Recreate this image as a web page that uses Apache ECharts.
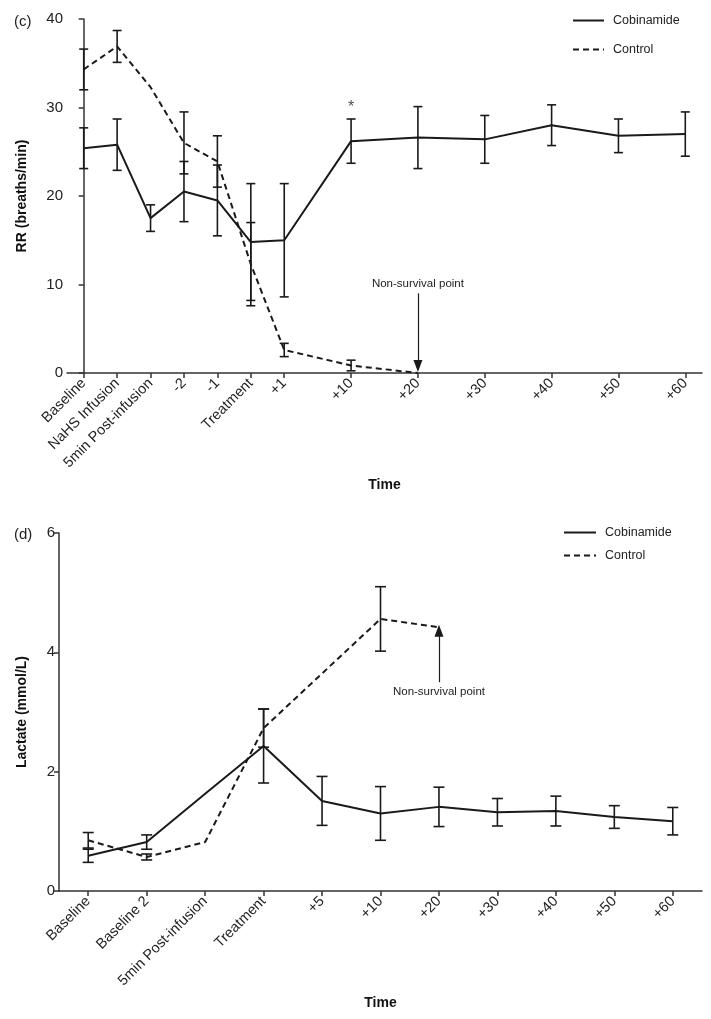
<!DOCTYPE html>
<html>
<head>
<meta charset="utf-8">
<script src="https://cdn.jsdelivr.net/npm/echarts@6/dist/echarts.min.js"></script>
<style>
html,body{margin:0;padding:0;background:#fff;}
#main{width:711px;height:1019px;}
</style>
</head>
<body>
<div id="main"></div>
<script>
// ---------- Panel (c): respiratory rate ----------
const rrTimeLabels = ['Baseline','NaHS Infusion','5min Post-infusion','-2','-1','Treatment','+1','+10','+20','+30','+40','+50','+60'];
const rrTimeSlots = [0,1,2,3,4,5,6,8,10,12,14,16,18];
const rrCobinamideMean = [25.4,25.8,17.5,20.5,19.5,14.8,15.0,26.2,26.6,26.4,28.0,26.8,27.0];
const rrCobinamideSem  = [2.3,2.9,1.5,3.4,4.0,6.6,6.4,2.5,3.5,2.7,2.3,1.9,2.5];
const rrControlMean = [34.3,36.9,32.3,26.0,23.9,12.3,2.6,0.85,0];
const rrControlSem  = [2.3,1.8,null,3.5,2.9,4.7,0.75,0.6,null];
const rrYTicks = [0,10,20,30,40];
const rrStar = [[8, 30.0]];
const rrNonSurvival = {slot: 10, from: 9.0, to: 0.8};

// ---------- Panel (d): lactate ----------
const lacTimeLabels = ['Baseline','Baseline 2','5min Post-infusion','Treatment','+5','+10','+20','+30','+40','+50','+60'];
const lacCobinamideMean = [0.59,0.82,1.63,2.43,1.51,1.30,1.41,1.32,1.34,1.24,1.17];
const lacCobinamideSem  = [0.11,0.12,null,0.62,0.41,0.45,0.33,0.23,0.25,0.19,0.23];
const lacControlMean = [0.85,0.57,0.82,2.73,null,4.56,4.42];
const lacControlSem  = [0.13,0.05,null,0.32,null,0.54,null];
const lacYTicks = [0,2,4,6];
const lacNonSurvival = {index: 6, from: 3.5, to: 4.36};

const FONT = 'Liberation Sans, Arial, Helvetica, sans-serif';
const INK = '#1a1a1a';
const AXIS = '#333';

function slotPairs(slots, means) {
  return means.map((m, i) => [slots[i], m]);
}
function errRows(xs, means, sems) {
  const out = [];
  means.forEach((m, i) => {
    if (m != null && sems[i] != null) out.push([xs[i], m - sems[i], m + sems[i]]);
  });
  return out;
}
function errRenderer(capHalf) {
  return function (params, api) {
    const x = api.value(0);
    const lo = api.coord([x, api.value(1)]);
    const hi = api.coord([x, api.value(2)]);
    const st = {stroke: INK, lineWidth: 1.6};
    return {
      type: 'group',
      children: [
        {type: 'line', shape: {x1: lo[0], y1: lo[1], x2: hi[0], y2: hi[1]}, style: st},
        {type: 'line', shape: {x1: lo[0] - capHalf, y1: lo[1], x2: lo[0] + capHalf, y2: lo[1]}, style: st},
        {type: 'line', shape: {x1: hi[0] - capHalf, y1: hi[1], x2: hi[0] + capHalf, y2: hi[1]}, style: st}
      ]
    };
  };
}

const lacIdx = lacTimeLabels.map((_, i) => i);

const axisLineStyle = {color: AXIS, width: 1.5};
const tickLabel = {color: '#222', fontSize: 14.5, fontFamily: FONT};
const legendText = {fontSize: 12.5, color: '#222', fontFamily: FONT, padding: [0, 0, 0, 4]};

const chart = echarts.init(document.getElementById('main'), null, {renderer: 'canvas'});

const option = {
  animation: false,
  backgroundColor: '#fff',
  textStyle: {fontFamily: FONT},
  grid: [
    {left: 67, right: 9, top: 19, height: 354},
    {left: 59, right: 9, top: 533, height: 358}
  ],
  legend: [
    {
      orient: 'vertical', left: 572, top: 14, padding: 0, itemWidth: 31, itemHeight: 14, itemGap: 16,
      data: ['Cobinamide', 'Control'], itemStyle: {opacity: 0},
      textStyle: legendText, selectedMode: false
    },
    {
      orient: 'vertical', left: 563, top: 526, padding: 0, itemWidth: 32, itemHeight: 14, itemGap: 10,
      data: ['Cobinamide', 'Control'], itemStyle: {opacity: 0},
      textStyle: legendText, selectedMode: false
    }
  ],
  xAxis: [
    {
      type: 'value', gridIndex: 0, min: -0.5, max: 18.5,
      splitLine: {show: false},
      axisLine: {show: true, lineStyle: axisLineStyle},
      axisTick: {show: true, customValues: rrTimeSlots, length: 5, lineStyle: axisLineStyle},
      axisLabel: Object.assign({
        customValues: rrTimeSlots, rotate: 45, margin: 8,
        formatter: v => rrTimeLabels[rrTimeSlots.indexOf(v)] || ''
      }, tickLabel),
      name: 'Time', nameLocation: 'middle', nameGap: 105,
      nameTextStyle: {fontWeight: 'bold', fontSize: 14, color: '#111', fontFamily: FONT}
    },
    {
      type: 'category', gridIndex: 1, data: lacTimeLabels, boundaryGap: true,
      axisLine: {show: true, lineStyle: axisLineStyle},
      axisTick: {show: true, alignWithLabel: true, length: 5, lineStyle: axisLineStyle},
      axisLabel: Object.assign({rotate: 45, margin: 8, interval: 0}, tickLabel),
      name: 'Time', nameLocation: 'middle', nameGap: 105,
      nameTextStyle: {fontWeight: 'bold', fontSize: 14, color: '#111', fontFamily: FONT}
    }
  ],
  yAxis: [
    {
      type: 'value', gridIndex: 0, min: rrYTicks[0], max: rrYTicks[rrYTicks.length - 1], interval: 10,
      splitLine: {show: false},
      axisLine: {show: true, lineStyle: axisLineStyle},
      axisTick: {show: true, length: 5, lineStyle: axisLineStyle},
      axisLabel: Object.assign({}, tickLabel, {fontSize: 15, margin: 4}),
      name: 'RR (breaths/min)', nameLocation: 'middle', nameGap: 38, nameRotate: 90,
      nameTextStyle: {fontWeight: 'bold', fontSize: 14, color: '#111', fontFamily: FONT}
    },
    {
      type: 'value', gridIndex: 1, min: lacYTicks[0], max: lacYTicks[lacYTicks.length - 1], interval: 2,
      splitLine: {show: false},
      axisLine: {show: true, lineStyle: axisLineStyle},
      axisTick: {show: true, length: 5, lineStyle: axisLineStyle},
      axisLabel: Object.assign({}, tickLabel, {fontSize: 15, margin: 4}),
      name: 'Lactate (mmol/L)', nameLocation: 'middle', nameGap: 30, nameRotate: 90,
      nameTextStyle: {fontWeight: 'bold', fontSize: 14, color: '#111', fontFamily: FONT}
    }
  ],
  graphic: [
    {type: 'text', left: 14, top: 14, style: {text: '(c)', fontSize: 15, fill: '#222', fontFamily: FONT}},
    {type: 'text', left: 14, top: 527, style: {text: '(d)', fontSize: 15, fill: '#222', fontFamily: FONT}}
  ],
  series: [
    // Panel (c)
    {
      name: 'Cobinamide', type: 'line', xAxisIndex: 0, yAxisIndex: 0,
      data: slotPairs(rrTimeSlots, rrCobinamideMean), symbol: 'none',
      lineStyle: {color: INK, width: 2}, itemStyle: {color: INK}, z: 3
    },
    {
      name: 'Control', type: 'line', xAxisIndex: 0, yAxisIndex: 0,
      data: slotPairs(rrTimeSlots, rrControlMean), symbol: 'none',
      lineStyle: {color: INK, width: 2, type: [6, 4]}, itemStyle: {color: INK}, z: 3,
      markLine: {
        silent: true, symbol: ['none', 'triangle'], symbolSize: [9, 12], precision: 3,
        lineStyle: {color: INK, width: 1.2, type: 'solid'},
        label: {show: true, position: 'start', formatter: 'Non-survival point', color: '#222', fontSize: 11.5, fontFamily: FONT, distance: 4},
        data: [[{coord: [rrNonSurvival.slot, rrNonSurvival.from]}, {coord: [rrNonSurvival.slot, rrNonSurvival.to]}]]
      }
    },
    {
      type: 'custom', xAxisIndex: 0, yAxisIndex: 0, renderItem: errRenderer(4.5),
      data: errRows(rrTimeSlots, rrCobinamideMean, rrCobinamideSem), encode: {x: 0, y: [1, 2]}, z: 2, silent: true
    },
    {
      type: 'custom', xAxisIndex: 0, yAxisIndex: 0, renderItem: errRenderer(4.5),
      data: errRows(rrTimeSlots, rrControlMean, rrControlSem), encode: {x: 0, y: [1, 2]}, z: 2, silent: true
    },
    {
      type: 'scatter', xAxisIndex: 0, yAxisIndex: 0, data: rrStar, symbolSize: 0, silent: true,
      label: {show: true, position: 'inside', formatter: '*', fontSize: 16, color: '#222', fontFamily: FONT}
    },
    // Panel (d)
    {
      name: 'Cobinamide', type: 'line', xAxisIndex: 1, yAxisIndex: 1,
      data: lacCobinamideMean, symbol: 'none',
      lineStyle: {color: INK, width: 2}, itemStyle: {color: INK}, z: 3
    },
    {
      name: 'Control', type: 'line', xAxisIndex: 1, yAxisIndex: 1,
      data: lacControlMean, symbol: 'none', connectNulls: true,
      lineStyle: {color: INK, width: 2, type: [6, 4]}, itemStyle: {color: INK}, z: 3,
      markLine: {
        silent: true, symbol: ['none', 'triangle'], symbolSize: [9, 12], precision: 3,
        lineStyle: {color: INK, width: 1.2, type: 'solid'},
        label: {show: true, position: 'start', formatter: 'Non-survival point', color: '#222', fontSize: 11.5, fontFamily: FONT, distance: 4},
        data: [[{coord: [lacNonSurvival.index, lacNonSurvival.from]}, {coord: [lacNonSurvival.index, lacNonSurvival.to]}]]
      }
    },
    {
      type: 'custom', xAxisIndex: 1, yAxisIndex: 1, renderItem: errRenderer(5.5),
      data: errRows(lacIdx, lacCobinamideMean, lacCobinamideSem), encode: {x: 0, y: [1, 2]}, z: 2, silent: true
    },
    {
      type: 'custom', xAxisIndex: 1, yAxisIndex: 1, renderItem: errRenderer(5.5),
      data: errRows(lacIdx, lacControlMean, lacControlSem), encode: {x: 0, y: [1, 2]}, z: 2, silent: true
    }
  ]
};
chart.setOption(option);
</script>
</body>
</html>
